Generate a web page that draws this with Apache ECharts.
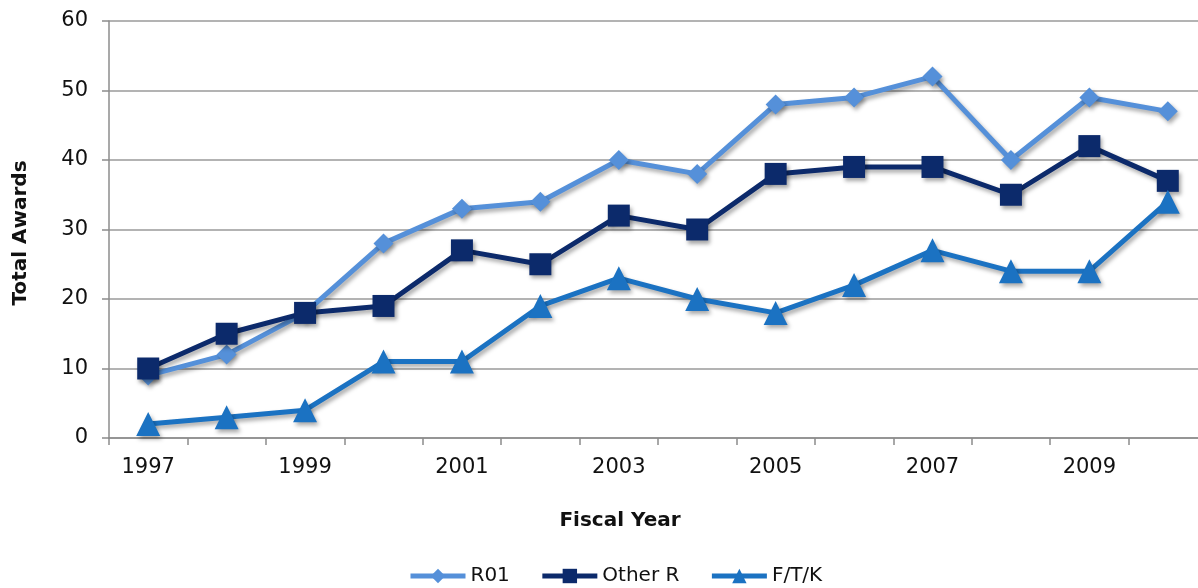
<!DOCTYPE html>
<html>
<head>
<meta charset="utf-8">
<script src="https://cdn.jsdelivr.net/npm/echarts@6/dist/echarts.min.js"></script>
<style>html,body{margin:0;padding:0;background:#fff;overflow:hidden;}#c{width:1212px;height:588px;}</style>
</head>
<body>
<div id="c"></div>
<script>
var years = ['1997','1998','1999','2000','2001','2002','2003','2004','2005','2006','2007','2008','2009','2010'];
var r01 = [9, 12, 18, 28, 33, 34, 40, 38, 48, 49, 52, 40, 49, 47];
var otherR = [10, 15, 18, 19, 27, 25, 32, 30, 38, 39, 39, 35, 42, 37];
var ftk = [2, 3, 4, 11, 11, 19, 23, 20, 18, 22, 27, 24, 24, 34];
var yTicks = [0, 10, 20, 30, 40, 50, 60];

var FONT = '"DejaVu Sans"';
var chart = echarts.init(document.getElementById('c'));
function mk(name, data, color, symbol, size) {
  return {
    name: name, type: 'line', data: data, symbol: symbol, symbolSize: size,
    lineStyle: {width: 5, color: color, shadowColor: 'rgba(0,0,0,0.35)', shadowBlur: 4, shadowOffsetX: 2, shadowOffsetY: 3},
    itemStyle: {color: color, shadowColor: 'rgba(0,0,0,0.35)', shadowBlur: 4, shadowOffsetX: 2, shadowOffsetY: 3},
    animation: false, z: 3
  };
}
chart.setOption({
  animation: false,
  grid: {left: 109, top: 21, width: 1098, height: 417, containLabel: false},
  xAxis: {
    type: 'category', data: years, boundaryGap: true,
    axisLine: {lineStyle: {color: '#8c8c8c', width: 1.5}},
    axisTick: {show: true, interval: 0, length: 7, lineStyle: {color: '#8c8c8c', width: 1.5}},
    axisLabel: {interval: 1, margin: 19, fontFamily: FONT, fontSize: 21, color: '#111'}
  },
  yAxis: {
    type: 'value', min: yTicks[0], max: yTicks[yTicks.length-1], interval: 10,
    axisLine: {show: true, lineStyle: {color: '#8c8c8c', width: 1.5}},
    axisTick: {show: true, length: 7, lineStyle: {color: '#8c8c8c', width: 1.5}},
    splitLine: {lineStyle: {color: '#9a9a9a', width: 1.5}},
    axisLabel: {margin: 21, fontFamily: FONT, fontSize: 21, color: '#111'}
  },
  legend: {
    top: 566, left: 408, padding: 0, itemWidth: 55, itemHeight: 18, itemGap: 30,
    lineStyle: {width: 5},
    itemStyle: {shadowBlur: 0, shadowOffsetX: 0, shadowOffsetY: 0},
    textStyle: {fontFamily: FONT, fontSize: 20, color: '#111'},
    data: ['R01', 'Other R', 'F/T/K']
  },
  graphic: [
    {type: 'text', x: 620, y: 521, style: {text: 'Fiscal Year', font: 'bold 20px ' + FONT, fill: '#111', align: 'center', verticalAlign: 'middle'}},
    {type: 'text', x: 21, y: 233, rotation: Math.PI/2, style: {text: 'Total Awards', font: 'bold 20px ' + FONT, fill: '#111', align: 'center', verticalAlign: 'middle'}}
  ],
  series: [
    mk('R01', r01, '#5590d9', 'diamond', 20),
    mk('Other R', otherR, '#0c2a6b', 'rect', 22),
    mk('F/T/K', ftk, '#1b72c2', 'triangle', 24)
  ]
});
</script>
</body>
</html>
